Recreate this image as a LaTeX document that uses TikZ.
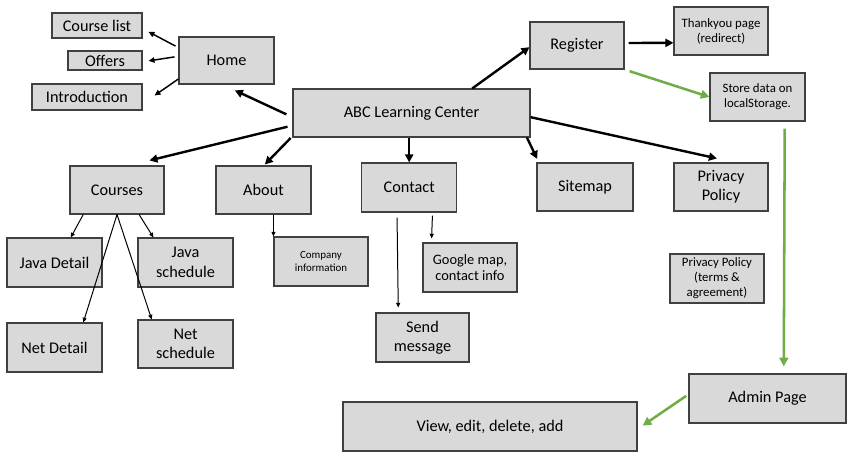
\documentclass[tikz,border=0pt]{standalone}
\usepackage{fontspec}
\setmainfont{Carlito}
\usetikzlibrary{arrows.meta}
\definecolor{boxgray}{HTML}{D9D9D9}
\definecolor{boxline}{HTML}{404040}
\definecolor{admingreen}{HTML}{70AD47}

\begin{document}
\begin{tikzpicture}[x=0.75pt,y=-0.75pt,
  page/.style={draw=boxline, fill=boxgray, line width=0.8pt, minimum width=70.5pt, minimum height=36pt, inner sep=1pt, align=center, font=\fontsize{12.2}{14.5}\selectfont},
  note/.style={page, font=\fontsize{9.6}{11.2}\selectfont},
  link/.style={-{Triangle[length=6pt,width=6pt]}, line width=1.8pt},
  sublink/.style={-{Triangle[length=4.5pt,width=4pt]}, line width=1.1pt},
  thin link/.style={-{Triangle[length=3.5pt,width=3pt]}, line width=0.75pt},
  admin link/.style={-{Triangle[length=6.5pt,width=6.5pt]}, line width=1.9pt, draw=admingreen}]

 \fill[white] (0,0) rectangle (858,456);
 \useasboundingbox (0,0) rectangle (858,456);

 % home branch
 \node[page, minimum width=67.5pt, minimum height=18.75pt] (courselist) at (97,25.5) {Course list};
 \node[page, minimum width=55.5pt, minimum height=14.25pt] (offers) at (105,60.5) {Offers};
 \node[page, minimum width=82.5pt, minimum height=19.5pt] (intro) at (87,97) {Introduction};
 \node[page, minimum width=71.25pt, minimum height=35.25pt] (home) at (226.5,60.5) {Home};

 \node[page, minimum width=177.75pt] (abc) at (411.5,113) {ABC Learning Center};

 % second row
 \node[page] (courses) at (117,190) {Courses};
 \node[page, minimum width=71.25pt] (about) at (263.5,190) {About};
 \node[page, minimum width=71.25pt, minimum height=36.75pt] (contact) at (409.2,187.5) {Contact};
 \node[page, minimum width=72pt] (sitemap) at (585,187) {Sitemap};
 \node[page] (privacy) at (721,187) {Privacy\\Policy};

 % register branch
 \node[page, minimum height=35.25pt] (register) at (577,45.5) {Register};
 \node[note] (thankyou) at (721,31) {Thankyou page\\(redirect)};
 \node[note, minimum width=71.25pt] (store) at (757.5,97) {Store data on\\localStorage.};

 % course pages
 \node[page, minimum width=71.25pt, minimum height=36.75pt] (javadetail) at (54.5,262.5) {Java Detail};
 \node[page, minimum width=71.25pt, minimum height=36.75pt] (javasched) at (185.5,262.5) {Java\\schedule};
 \node[page, minimum width=71.25pt, minimum height=36.75pt] (netdetail) at (54.5,347.5) {Net Detail};
 \node[page, minimum width=71.25pt] (netsched) at (185.5,344) {Net\\schedule};

 \node[page, minimum height=36.75pt, font=\fontsize{8.2}{9.5}\selectfont] (company) at (321,261.5) {Company\\information};
 \node[page, minimum height=36.75pt, font=\fontsize{10.8}{12}\selectfont] (google) at (470,267.5) {Google map,\\contact info};
 \node[page, minimum width=69.75pt, minimum height=36.75pt] (send) at (422.5,337.5) {Send\\message};
 \node[note, minimum height=36.75pt] (terms) at (717,278.5) {Privacy Policy\\(terms \&\\agreement)};

 % admin
 \node[page, minimum width=117.75pt, minimum height=36.75pt] (admin) at (767.5,398.5) {Admin Page};
 \node[page, minimum width=220.5pt, minimum height=36.75pt] (view) at (490,426.5) {View, edit, delete, add};

 \draw[sublink, shorten <=2.5pt, shorten >=5pt] (home.165) -- (courselist.-4);
 \draw[sublink, shorten <=3pt, shorten >=4.5pt] (home.175) -- (offers.-2);
 \draw[sublink, shorten >=10.9pt] (home.201) -- (intro.-7);

 \draw[link, shorten <=5pt, shorten >=10.4pt] (abc.182) -- (home.260);
 \draw[link, shorten <=3.8pt, shorten >=15.8pt] (abc.186) -- (courses.64);
 \draw[link, shorten <=2pt, shorten >=1pt] (abc.191) -- (about.89);
 \draw[link] (contact.north |- abc.south) -- (contact.north);
 \draw[link] (abc.22) -- (register.182);
 \draw[link, shorten <=3pt] (register.3) -- (thankyou.194);
 \draw[link, shorten >=2.9pt] (abc.-12.5) -- (sitemap.152);
 \draw[link, shorten >=14pt] (abc.-2) -- (privacy.60);

 \draw[admin link, shorten <=4pt] (register.south east) -- (store.west);
 \draw[admin link, shorten <=5.3pt, shorten >=5.3pt] (store.-42) -- (admin.57);
 \draw[admin link, shorten <=2pt, shorten >=4.6pt] (admin.177) -- (view.-1.5);

 \draw[thin link] (courses.216) -- (javadetail.57);
 \draw[thin link] (courses.south) -- (netdetail.41);
 \draw[thin link] (courses.south) -- (netsched.144);
 \draw[thin link] (courses.-48) -- (javasched.142);
 \draw[thin link] (company.north west |- about.south) -- (company.north west);
 \draw[thin link, shorten <=3.75pt, shorten >=3.75pt] (contact.244) -- (send.134);
 \draw[thin link, shorten <=2.3pt, shorten >=3pt] (contact.-47) -- (google.147);

\end{tikzpicture}
\end{document}
